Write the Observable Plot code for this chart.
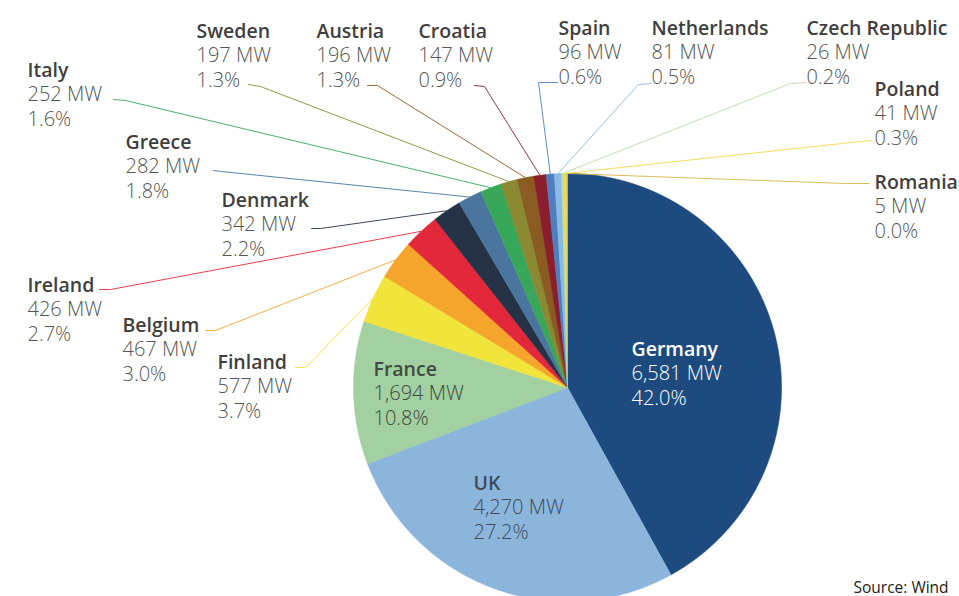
<!DOCTYPE html>
<html>
<head>
<meta charset="utf-8">
<script src="https://cdn.jsdelivr.net/npm/d3@7"></script>
<script src="https://cdn.jsdelivr.net/npm/@observablehq/plot@0.6"></script>
<style>
  html, body { margin: 0; padding: 0; background: #fff; overflow: hidden; }
  #chart svg { display: block; }
</style>
</head>
<body>
<div id="chart"></div>
<script>
// ---------------- data ----------------
const countries = ["Germany", "UK", "France", "Finland", "Belgium", "Ireland", "Denmark", "Greece",
  "Italy", "Sweden", "Austria", "Croatia", "Spain", "Netherlands", "Czech Republic", "Poland", "Romania"];
const capacityMW = [6581, 4270, 1694, 577, 467, 426, 342, 282, 252, 197, 196, 147, 96, 81, 26, 41, 5];
const sharePct = [42.0, 27.2, 10.8, 3.7, 3.0, 2.7, 2.2, 1.8, 1.6, 1.3, 1.3, 0.9, 0.6, 0.5, 0.2, 0.3, 0.0];
const sourceNote = "Source: Wind";

// ---------------- styles ----------------
const sliceColors = ["#1e4b7f", "#8cb5dc", "#a2d0a0", "#f1e43a", "#f5a52c", "#e4283b", "#263246", "#49759f",
  "#39a75a", "#8b8a32", "#8a5c22", "#8a1e2d", "#4f7dc0", "#88bae4", "#b9dba9", "#f1da4c", "#d9b445"];
const nameColor = "#3f3f3f", valueColor = "#555555";

// ---------------- layout (pixels) ----------------
const W = 959, H = 596;
const cx = 567, cy = 387, R = 214;
const FS = 20, FSN = 19.5, LH = 24.6;
// label anchor (x, first baseline) and text colour overrides
const labelLayout = {
  "Germany": {x: 631, y: 355, name: "#ffffff", value: "#ffffff"},
  "UK": {x: 473, y: 489, name: "#3d4c5c", value: "#3d4c5c"},
  "France": {x: 373, y: 375, name: "#3e4a42", value: "#3e4a42"},
  "Finland": {x: 217, y: 368},
  "Belgium": {x: 122, y: 331},
  "Ireland": {x: 27, y: 291},
  "Denmark": {x: 221, y: 206},
  "Greece": {x: 125, y: 148},
  "Italy": {x: 27, y: 76},
  "Sweden": {x: 196, y: 37},
  "Austria": {x: 316, y: 37},
  "Croatia": {x: 418, y: 37},
  "Spain": {x: 558, y: 34},
  "Netherlands": {x: 651, y: 34},
  "Czech Republic": {x: 806, y: 34},
  "Poland": {x: 874, y: 95},
  "Romania": {x: 874, y: 188}
};
// leader line: start point and elbow (pixels); the end is on the slice rim
const leaderLayout = {
  "Italy": [[113, 99], [125, 100]],
  "Greece": [[213, 170], [221, 171]],
  "Denmark": [[311, 228], [320, 228]],
  "Sweden": [[248, 84], [260, 86]],
  "Austria": [[367, 85], [377, 85]],
  "Croatia": [[474, 85], [484, 86]],
  "Ireland": [[99, 289], [110, 289]],
  "Belgium": [[205, 330], [215, 330]],
  "Finland": [[295, 367], [305, 367]],
  "Spain": [[557, 82], [538, 82]],
  "Netherlands": [[651, 83], [638, 84]],
  "Czech Republic": [[805, 82], [790, 83]],
  "Poland": [[871, 140], [860, 141]],
  "Romania": [[869, 183], [845, 183]]
};
const ux = px => (px - cx) / R;   // pixel -> unit circle coords
const uy = py => (cy - py) / R;

// ---------------- build ----------------
const rows = countries.map((c, i) => ({country: c, mw: capacityMW[i], pct: sharePct[i], color: sliceColors[i]}));
const arcs = d3.pie().sort(null).value(d => d.mw)(rows);

const slicePts = arcs.flatMap(a => {
  const d = a.data;
  const n = Math.max(2, Math.ceil((a.endAngle - a.startAngle) / 0.004));
  const pts = [{country: d.country, color: d.color, x: 0, y: 0}];
  for (let k = 0; k <= n; k++) {
    const t = a.startAngle + (a.endAngle - a.startAngle) * k / n;
    pts.push({country: d.country, color: d.color, x: Math.sin(t), y: Math.cos(t)});
  }
  pts.push({country: d.country, color: d.color, x: 0, y: 0});
  return pts;
});

const leaderPts = arcs.filter(a => leaderLayout[a.data.country]).flatMap(a => {
  const d = a.data, m = (a.startAngle + a.endAngle) / 2;
  const [s, e] = leaderLayout[d.country];
  return [
    {country: d.country, color: d.color, x: ux(s[0]), y: uy(s[1])},
    {country: d.country, color: d.color, x: ux(e[0]), y: uy(e[1])},
    {country: d.country, color: d.color, x: Math.sin(m), y: Math.cos(m)}
  ];
});

const fmt = d3.format(",");
const labels = rows.map(d => {
  const L = labelLayout[d.country];
  return {
    x: ux(L.x), y0: uy(L.y), y1: uy(L.y + LH), y2: uy(L.y + 2 * LH),
    name: d.country, mw: fmt(d.mw) + " MW", pct: d.pct.toFixed(1) + "%",
    nameFill: L.name || nameColor, valueFill: L.value || valueColor
  };
});

const chart = Plot.plot({
  width: W, height: H,
  margin: 0,
  x: {type: "linear", domain: [-1, 1], range: [cx - R, cx + R], axis: null},
  y: {type: "linear", domain: [-1, 1], range: [cy + R, cy - R], axis: null},
  color: {type: "identity"},
  style: {fontFamily: "'Open Sans', sans-serif", background: "#fff", overflow: "hidden"},
  marks: [
    Plot.line(slicePts, {x: "x", y: "y", z: "country", fill: "color", stroke: "color", strokeWidth: 0.6, curve: "linear-closed"}),
    Plot.line(leaderPts, {x: "x", y: "y", z: "country", stroke: "color", strokeWidth: 0.9}),
    Plot.text(labels, {x: "x", y: "y0", text: "name", fill: "nameFill", fontWeight: 600, fontSize: FSN, textAnchor: "start", lineAnchor: "bottom"}),
    Plot.text(labels, {x: "x", y: "y1", text: "mw", fill: "valueFill", fontWeight: 300, fontSize: FS, textAnchor: "start", lineAnchor: "bottom"}),
    Plot.text(labels, {x: "x", y: "y2", text: "pct", fill: "valueFill", fontWeight: 300, fontSize: FS, textAnchor: "start", lineAnchor: "bottom"}),
    Plot.text([sourceNote], {x: [ux(853)], y: [uy(592)], text: d => d, fill: "#222", fontSize: 15.5, textAnchor: "start", lineAnchor: "bottom"})
  ]
});
document.getElementById("chart").appendChild(chart);
</script>
</body>
</html>
